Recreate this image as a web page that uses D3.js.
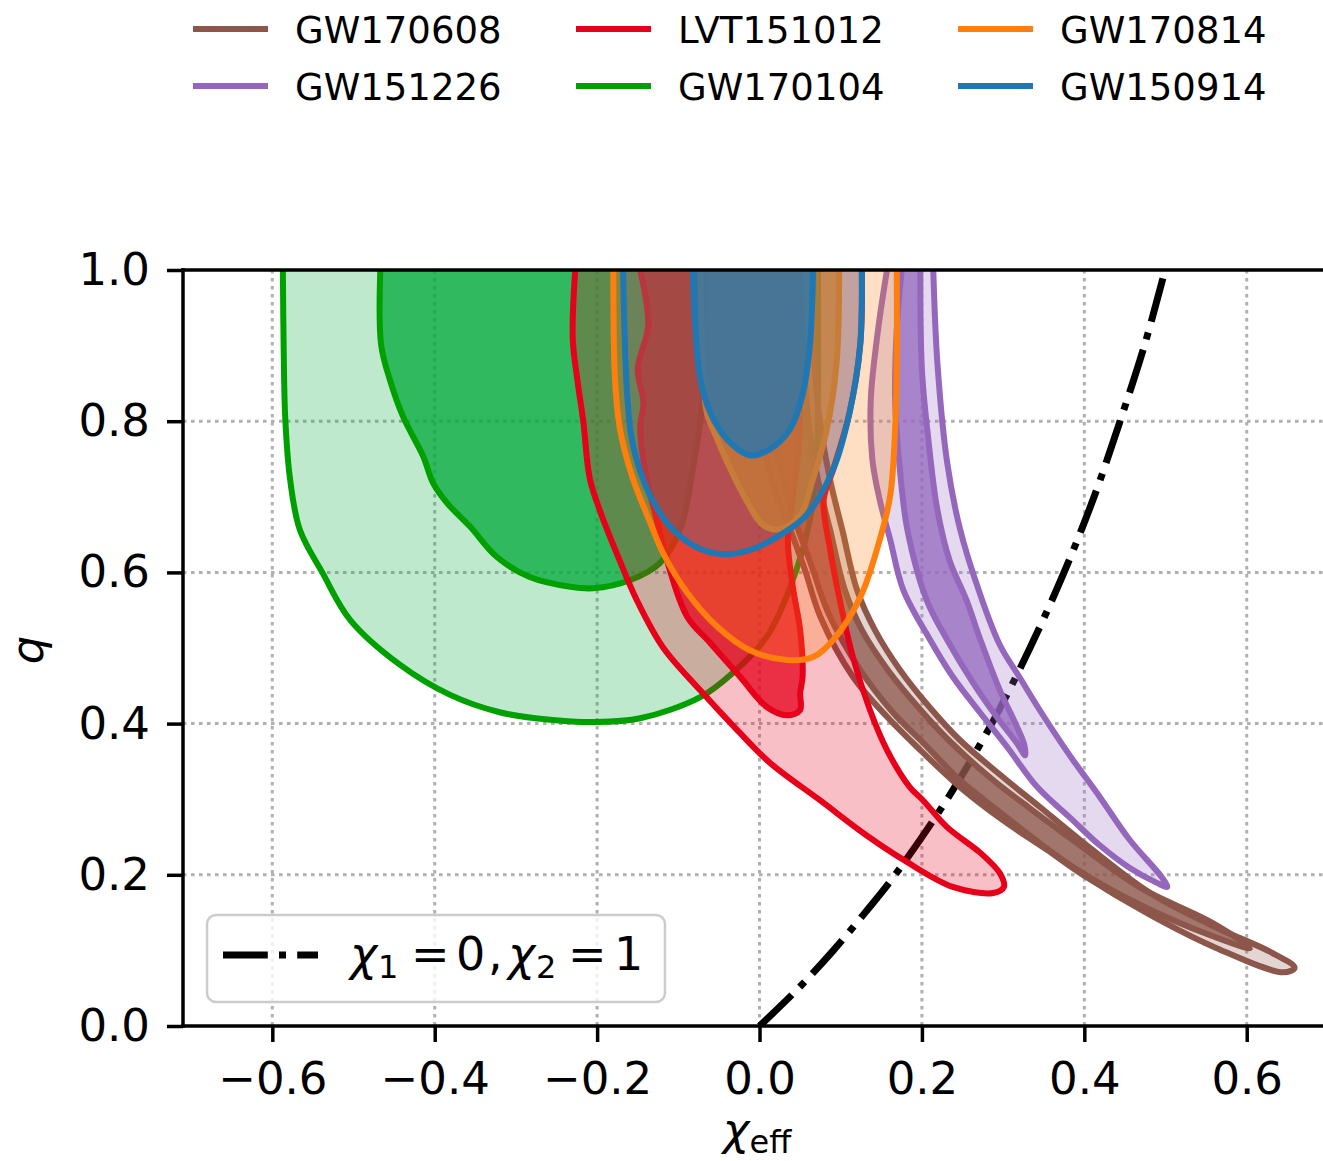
<!DOCTYPE html>
<html>
<head>
<meta charset="utf-8">
<script src="https://cdn.jsdelivr.net/npm/d3@7"></script>
<style>
  body { margin: 0; background: #fff; }
  svg { display: block; font-family: "DejaVu Sans", sans-serif; }
</style>
</head>
<body>
<div id="root"></div>
<script>
// legend order (row by row) and colours
const events = ["GW170608", "LVT151012", "GW170814", "GW151226", "GW170104", "GW150914"];
const lineColors = ["#8c564b", "#e6001a", "#ff7f0e", "#9467bd", "#00a000", "#1f77b4"];
const fillColors = ["#8c564b", "#e6001a", "#ff7f0e", "#9467bd", "#00a838", "#1f77b4"];
// drawing order, bottom first
const drawOrder = ["GW170104", "GW170608", "GW151226", "LVT151012", "GW170814", "GW150914"];

const xTicks = [-0.6, -0.4, -0.2, 0.0, 0.2, 0.4, 0.6];
const yTicks = [0.0, 0.2, 0.4, 0.6, 0.8, 1.0];

// contours, [chi_eff, q]
const gw170104Outer = [[-0.587,1.0],[-0.586,0.894],[-0.584,0.802],[-0.578,0.722],[-0.566,0.656],[-0.538,0.599],[-0.504,0.537],[-0.443,0.478],[-0.381,0.438],[-0.320,0.415],[-0.258,0.405],[-0.203,0.402],[-0.147,0.407],[-0.073,0.435],[-0.033,0.467],[0.009,0.515],[0.038,0.581],[0.062,0.669],[0.071,0.762],[0.072,0.854],[0.072,1.0]];
const gw170104Inner = [[-0.467,1.0],[-0.466,0.901],[-0.455,0.854],[-0.439,0.806],[-0.414,0.753],[-0.402,0.718],[-0.385,0.692],[-0.356,0.660],[-0.323,0.620],[-0.283,0.594],[-0.233,0.581],[-0.205,0.579],[-0.159,0.590],[-0.123,0.612],[-0.098,0.656],[-0.082,0.737],[-0.070,0.828],[-0.067,0.921],[-0.067,1.0]];

const lvt151012Outer = [[-0.227,1.0],[-0.230,0.909],[-0.224,0.852],[-0.217,0.799],[-0.209,0.724],[-0.196,0.680],[-0.175,0.623],[-0.151,0.563],[-0.119,0.501],[-0.073,0.444],[-0.028,0.392],[0.013,0.348],[0.074,0.299],[0.132,0.252],[0.177,0.220],[0.238,0.184],[0.288,0.176],[0.301,0.184],[0.296,0.202],[0.272,0.229],[0.231,0.263],[0.201,0.299],[0.185,0.316],[0.157,0.365],[0.136,0.418],[0.115,0.488],[0.099,0.563],[0.087,0.630],[0.079,0.696],[0.091,0.737],[0.111,0.812],[0.124,0.901],[0.126,1.0]];
const lvt151012Inner = [[-0.147,1.0],[-0.137,0.927],[-0.150,0.869],[-0.143,0.825],[-0.147,0.790],[-0.139,0.724],[-0.126,0.667],[-0.114,0.616],[-0.089,0.541],[-0.061,0.507],[-0.024,0.462],[0.009,0.422],[0.034,0.411],[0.050,0.418],[0.050,0.440],[0.053,0.462],[0.050,0.524],[0.041,0.581],[0.035,0.643],[0.044,0.722],[0.050,0.802],[0.046,0.894],[0.044,1.0]];

const gw170814Outer = [[-0.180,1.0],[-0.178,0.856],[-0.172,0.790],[-0.156,0.724],[-0.135,0.667],[-0.119,0.626],[-0.089,0.573],[-0.052,0.528],[-0.012,0.497],[0.034,0.484],[0.066,0.488],[0.091,0.511],[0.124,0.567],[0.148,0.643],[0.161,0.702],[0.167,0.790],[0.169,0.878],[0.169,1.0]];
const gw170814Inner = [[-0.073,1.0],[-0.070,0.878],[-0.065,0.812],[-0.052,0.776],[-0.036,0.737],[-0.015,0.693],[0.004,0.663],[0.025,0.657],[0.050,0.676],[0.066,0.724],[0.083,0.790],[0.095,0.878],[0.098,1.0]];

const gw150914Outer = [[-0.168,1.0],[-0.163,0.835],[-0.156,0.769],[-0.135,0.702],[-0.107,0.657],[-0.073,0.631],[-0.040,0.624],[-0.008,0.631],[0.025,0.649],[0.058,0.676],[0.091,0.737],[0.111,0.812],[0.124,0.901],[0.126,1.0]];
const gw150914Inner = [[-0.082,1.0],[-0.079,0.922],[-0.073,0.856],[-0.061,0.812],[-0.040,0.776],[-0.012,0.755],[0.013,0.763],[0.038,0.790],[0.053,0.835],[0.062,0.901],[0.066,1.0]];

const gw151226Outer = [[0.157,1.0],[0.146,0.921],[0.137,0.828],[0.139,0.749],[0.148,0.696],[0.161,0.643],[0.177,0.577],[0.210,0.511],[0.238,0.462],[0.272,0.414],[0.305,0.369],[0.342,0.316],[0.382,0.276],[0.419,0.239],[0.456,0.209],[0.490,0.189],[0.502,0.184],[0.496,0.196],[0.456,0.246],[0.419,0.303],[0.382,0.358],[0.345,0.418],[0.321,0.460],[0.296,0.504],[0.272,0.570],[0.247,0.657],[0.231,0.746],[0.219,0.878],[0.214,1.0]];
const gw151226Inner = [[0.175,1.0],[0.169,0.921],[0.167,0.828],[0.173,0.735],[0.182,0.657],[0.206,0.563],[0.231,0.511],[0.263,0.454],[0.292,0.409],[0.317,0.374],[0.327,0.358],[0.326,0.372],[0.317,0.396],[0.296,0.444],[0.272,0.511],[0.255,0.563],[0.234,0.616],[0.219,0.683],[0.208,0.775],[0.200,0.868],[0.198,1.0]];

const gw170608Outer = [[-0.014,1.0],[-0.009,0.894],[0.001,0.802],[0.015,0.722],[0.038,0.656],[0.056,0.603],[0.075,0.541],[0.115,0.462],[0.157,0.409],[0.198,0.365],[0.247,0.316],[0.300,0.272],[0.354,0.233],[0.398,0.200],[0.481,0.147],[0.563,0.103],[0.645,0.071],[0.659,0.077],[0.629,0.098],[0.563,0.130],[0.481,0.176],[0.395,0.246],[0.345,0.290],[0.300,0.329],[0.247,0.378],[0.210,0.421],[0.173,0.471],[0.142,0.524],[0.120,0.577],[0.102,0.656],[0.087,0.722],[0.074,0.802],[0.067,0.894],[0.065,1.0]];
const gw170608Inner = [[0.003,1.0],[0.007,0.894],[0.015,0.802],[0.029,0.722],[0.047,0.659],[0.065,0.606],[0.084,0.548],[0.124,0.471],[0.164,0.415],[0.204,0.372],[0.247,0.325],[0.296,0.283],[0.345,0.242],[0.388,0.209],[0.469,0.160],[0.555,0.120],[0.604,0.103],[0.555,0.138],[0.469,0.183],[0.382,0.249],[0.333,0.288],[0.288,0.325],[0.235,0.376],[0.196,0.421],[0.158,0.471],[0.126,0.524],[0.105,0.577],[0.087,0.656],[0.072,0.722],[0.060,0.802],[0.054,0.894],[0.050,1.0]];

// chi_1 = 0, chi_2 = 1 curve
const maxSpinCurve = [[0,0],[0.048,0.05],[0.091,0.1],[0.130,0.15],[0.167,0.2],[0.231,0.3],[0.286,0.4],[0.333,0.5],[0.375,0.6],[0.412,0.7],[0.444,0.8],[0.474,0.9],[0.497,0.99]];

const contours = {
  GW170104: [gw170104Outer, gw170104Inner],
  LVT151012: [lvt151012Outer, lvt151012Inner],
  GW170814: [gw170814Outer, gw170814Inner],
  GW150914: [gw150914Outer, gw150914Inner],
  GW151226: [gw151226Outer, gw151226Inner],
  GW170608: [gw170608Outer, gw170608Inner]
};

const width = 1323, height = 1161;
const plotLeft = 183, plotTop = 270, plotBottom = 1026;

const svg = d3.select("#root").append("svg")
  .attr("width", width)
  .attr("height", height);

const x = d3.scaleLinear().domain([-0.71, 0.70]).range([plotLeft, plotLeft + 1.41 * 812]);
const y = d3.scaleLinear().domain([0, 1]).range([plotBottom, plotTop]);

svg.append("defs").append("clipPath").attr("id", "plotclip")
  .append("rect")
  .attr("x", plotLeft).attr("y", plotTop)
  .attr("width", width - plotLeft).attr("height", plotBottom - plotTop);

// grid
const grid = svg.append("g").attr("clip-path", "url(#plotclip)")
  .attr("stroke", "#b0b0b0").attr("stroke-width", 3).attr("stroke-dasharray", "3.5 4.5");
grid.selectAll(".gx").data(xTicks).join("line")
  .attr("x1", d => x(d)).attr("x2", d => x(d))
  .attr("y1", plotTop).attr("y2", plotBottom);
grid.selectAll(".gy").data(yTicks.slice(1, -1)).join("line")
  .attr("x1", plotLeft).attr("x2", width)
  .attr("y1", d => y(d)).attr("y2", d => y(d));

const plot = svg.append("g").attr("clip-path", "url(#plotclip)");

const line = d3.line()
  .x(d => x(d[0]))
  .y(d => y(d[1]))
  .curve(d3.curveCatmullRom.alpha(0.5));

// dash-dot theory curve, under the contours
plot.append("path")
  .attr("d", line(maxSpinCurve))
  .attr("fill", "none")
  .attr("stroke", "#000")
  .attr("stroke-width", 7)
  .attr("stroke-dasharray", "44.8 11.2 7 11.2");

drawOrder.forEach(name => {
  const i = events.indexOf(name);
  const [outer, inner] = contours[name];
  const g = plot.append("g");
  g.append("path").attr("d", line(outer) + "Z")
    .attr("fill", fillColors[i]).attr("fill-opacity", 0.25);
  g.append("path").attr("d", line(inner) + "Z")
    .attr("fill", fillColors[i]).attr("fill-opacity", 0.75);
  [outer, inner].forEach(c => {
    g.append("path").attr("d", line(c))
      .attr("fill", "none")
      .attr("stroke", lineColors[i])
      .attr("stroke-width", 6)
      .attr("stroke-linejoin", "round");
  });
});

// axes
const fmt = d3.format(".1f");
const xAxis = svg.append("g")
  .attr("transform", `translate(0,${plotBottom})`)
  .call(d3.axisBottom(x).tickValues(xTicks).tickFormat(fmt).tickSize(16).tickPadding(20));
const yAxis = svg.append("g")
  .attr("transform", `translate(${plotLeft},0)`)
  .call(d3.axisLeft(y).tickValues(yTicks).tickFormat(fmt).tickSize(16).tickPadding(17));
[xAxis, yAxis].forEach(a => {
  a.select(".domain").remove();
  a.selectAll(".tick line").attr("stroke", "#000").attr("stroke-width", 3.5);
  a.selectAll(".tick text")
    .attr("fill", "#000")
    .style("font-family", "DejaVu Sans")
    .style("font-size", "45px");
});

// spines
svg.append("g").attr("stroke", "#000").attr("stroke-width", 3.5).attr("stroke-linecap", "square")
  .selectAll("line")
  .data([[plotLeft, plotTop, width, plotTop], [plotLeft, plotBottom, width, plotBottom], [plotLeft, plotTop, plotLeft, plotBottom]])
  .join("line")
  .attr("x1", d => d[0]).attr("y1", d => d[1])
  .attr("x2", d => d[2]).attr("y2", d => d[3]);

// axis labels
svg.append("text")
  .attr("transform", "translate(43,650) rotate(-90)")
  .attr("text-anchor", "middle")
  .style("font-size", "45px")
  .style("font-style", "italic")
  .text("q");

const xl = svg.append("text")
  .attr("x", 757).attr("y", 1145)
  .attr("text-anchor", "middle")
  .style("font-size", "45px");
xl.append("tspan").style("font-style", "italic").text("χ");
xl.append("tspan").attr("dy", 8).style("font-size", "32px").text("eff");

// top legend
const legendCols = [193, 576, 958];
const legendRows = [29, 86];
const topLegend = svg.append("g");
events.forEach((name, i) => {
  const lx = legendCols[i % 3];
  const ly = legendRows[Math.floor(i / 3)];
  topLegend.append("line")
    .attr("x1", lx).attr("x2", lx + 75)
    .attr("y1", ly).attr("y2", ly)
    .attr("stroke", lineColors[i]).attr("stroke-width", 6);
  topLegend.append("text")
    .attr("x", lx + 102).attr("y", ly + 14)
    .style("font-size", "37px")
    .text(name);
});

// inner legend
const inLeg = svg.append("g");
inLeg.append("rect")
  .attr("x", 207).attr("y", 915).attr("width", 458).attr("height", 87)
  .attr("rx", 9)
  .attr("fill", "#fff").attr("fill-opacity", 0.8)
  .attr("stroke", "#cccccc").attr("stroke-width", 2.5);
inLeg.append("line")
  .attr("x1", 223).attr("x2", 318).attr("y1", 955).attr("y2", 955)
  .attr("stroke", "#000").attr("stroke-width", 7)
  .attr("stroke-dasharray", "44.8 11.2 7 11.2");
const lt = inLeg.append("g").style("font-size", "46px");
const pieces = [
  { t: "χ", x: 350, italic: true },
  { t: "1", x: 378, sub: true },
  { t: "=", x: 411 },
  { t: "0", x: 456 },
  { t: ",", x: 488 },
  { t: "χ", x: 508, italic: true },
  { t: "2", x: 536, sub: true },
  { t: "=", x: 568 },
  { t: "1", x: 614 }
];
pieces.forEach(p => {
  lt.append("text")
    .attr("x", p.x)
    .attr("y", p.sub ? 978 : 970)
    .style("font-size", p.sub ? "32px" : "46px")
    .style("font-style", p.italic ? "italic" : "normal")
    .text(p.t);
});
</script>
</body>
</html>
